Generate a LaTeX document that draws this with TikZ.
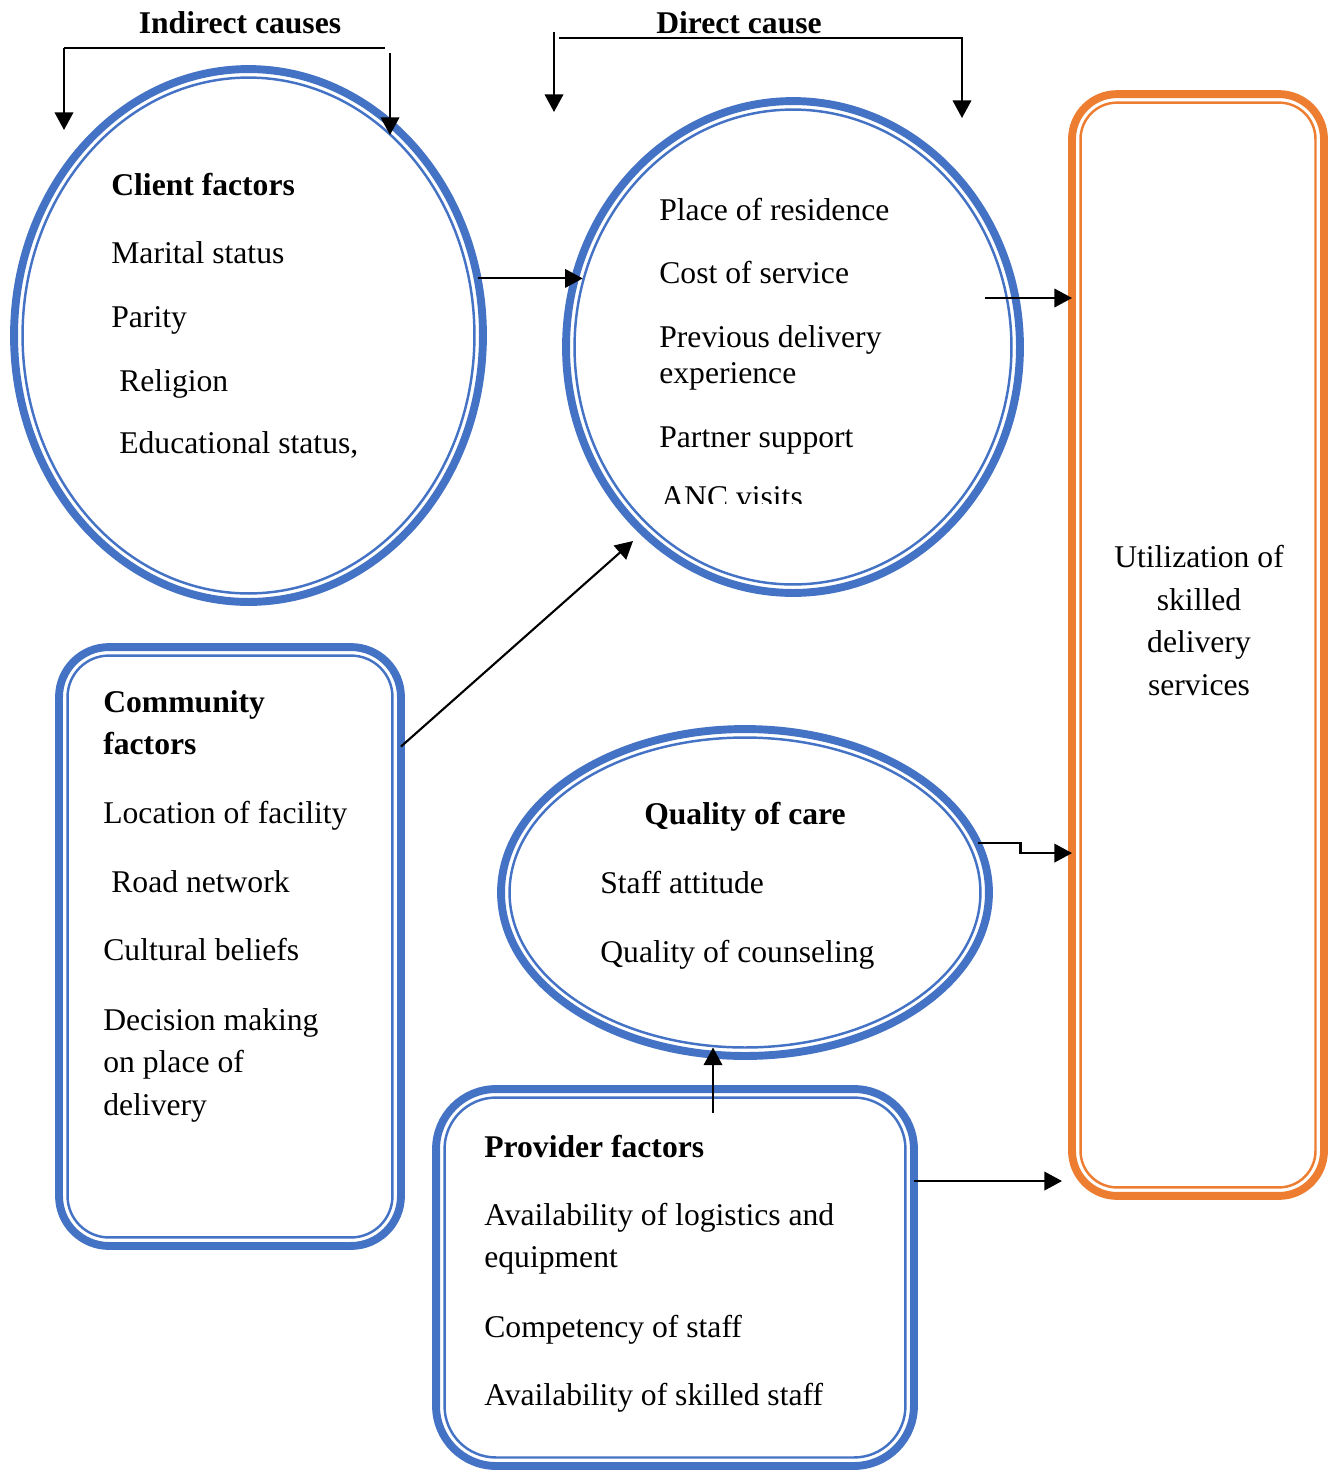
\documentclass[tikz,border=0pt]{standalone}
\usepackage{fontspec}
\setmainfont{Liberation Serif}
\usepackage{xcolor}
\usetikzlibrary{
	arrows.meta,
	shapes,
}
\definecolor{ringblue}{RGB}{68,114,196}
\definecolor{ringorange}{RGB}{237,125,49}

\begin{document}
\begin{tikzpicture}[x=0.02cm, y=-0.02cm,
	thickring/.style={draw=ringblue, line width=4.5pt, inner sep=0pt, outer sep=0pt},
	thinring/.style={draw=ringblue, line width=1.4pt, inner sep=0pt, outer sep=0pt},
	item/.style={anchor=base west, inner sep=0pt, font=\fontsize{18pt}{22pt}\selectfont},
	head/.style={item, font=\fontsize{18pt}{22pt}\selectfont\bfseries},
	arr/.style={-{Triangle[length=10pt, width=10.5pt]}, line width=1.2pt}]
\useasboundingbox (0,0) rectangle (1330,1472);

% client factors
\node[thickring, ellipse, minimum width=9.38cm, minimum height=10.66cm] (client) at (248.5,335.5) {};
\node[thinring, ellipse, minimum width=9.04cm, minimum height=10.32cm] (client-in) at (client) {};
\node[head] (client-title) at (111,195) {Client factors};
\node[item] (marital) at (111,263) {Marital status};
\node[item] (parity) at (111,327) {Parity};
\node[item] (religion) at (119,391) {Religion};
\node[item] (education) at (119,453) {Educational status,};

% direct causes
\node[thickring, ellipse, minimum width=9.08cm, minimum height=9.84cm] (direct) at (793,347) {};
\node[thinring, ellipse, minimum width=8.74cm, minimum height=9.5cm] (direct-in) at (direct) {};
\node[item] (residence) at (659,220) {Place of residence};
\node[item] (cost) at (659,283) {Cost of service};
\node[item] (previous) at (659,347) {Previous delivery};
\node[item] (previous-2) at (659,383) {experience};
\node[item] (partner) at (659,447) {Partner support};
\begin{scope}
\clip (600,470) rectangle (900,503);
\node[item] (anc) at (661,507) {ANC visits};
\end{scope}

% community factors
\node[thickring, rectangle, rounded corners=1cm, minimum width=6.84cm, minimum height=11.98cm] (community) at (230,946.5) {};
\node[thinring, rectangle, rounded corners=0.83cm, minimum width=6.5cm, minimum height=11.64cm] (community-in) at (community) {};
\node[head] (community-title) at (103,712) {Community};
\node[head] (community-title-2) at (103,754) {factors};
\node[item] (location) at (103,823) {Location of facility};
\node[item] (road) at (111,892) {Road network};
\node[item] (beliefs) at (103,960) {Cultural beliefs};
\node[item] (decision) at (103,1030) {Decision making};
\node[item] (decision-2) at (103,1072) {on place of};
\node[item] (decision-3) at (103,1115) {delivery};

% quality of care
\node[thickring, ellipse, minimum width=9.76cm, minimum height=6.54cm] (quality) at (745,892.5) {};
\node[thinring, ellipse, minimum width=9.42cm, minimum height=6.2cm] (quality-in) at (quality) {};
\node[head, anchor=base] (quality-title) at (745,824) {Quality of care};
\node[item] (attitude) at (600,893) {Staff attitude};
\node[item] (counseling) at (600,962) {Quality of counseling};

% provider factors
\node[thickring, rectangle, rounded corners=1.2cm, minimum width=9.56cm, minimum height=7.54cm] (provider) at (675,1277.5) {};
\node[thinring, rectangle, rounded corners=1.03cm, minimum width=9.22cm, minimum height=7.2cm] (provider-in) at (provider) {};
\node[head] (provider-title) at (484,1157) {Provider factors};
\node[item] (logistics) at (484,1225) {Availability of logistics and};
\node[item] (logistics-2) at (484,1267) {equipment};
\node[item] (competency) at (484,1337) {Competency of staff};
\node[item] (skilled) at (484,1405) {Availability of skilled staff};

% outcome
\node[thickring, draw=ringorange, rectangle, rounded corners=0.9cm, minimum width=5.04cm, minimum height=22.04cm] (util) at (1198,645) {};
\node[thinring, draw=ringorange, rectangle, rounded corners=0.73cm, minimum width=4.7cm, minimum height=21.7cm] (util-in) at (util) {};
\node[item, anchor=base] (util-1) at (1199,567) {Utilization of};
\node[item, anchor=base] (util-2) at (1199,610) {skilled};
\node[item, anchor=base] (util-3) at (1199,652) {delivery};
\node[item, anchor=base] (util-4) at (1199,695) {services};

% headings with brackets
\node[head, anchor=base] (indirect) at (240,33) {Indirect causes};
\coordinate (ind-l) at (64,48);
\coordinate (ind-r) at (385,48);
\draw[line width=1.2pt] (ind-l) -- (ind-r);
\draw[arr] (ind-l) -- ++(0,82);
\draw[arr] (390,53) -- ++(0,82);

\node[head, anchor=base] (directcause) at (739,33) {Direct cause};
\coordinate (dir-l) at (559,38);
\coordinate (dir-r) at (962,38);
\draw[arr] (dir-l) -- (dir-r) -- ++(0,80);
\draw[arr] (554,32) -- ++(0,80);

% arrows between the factors
\draw[arr] (client.14) -- (client.14 -| direct-in.163);
\coordinate (d2u) at (985,298);
\draw[arr] (d2u) -- (d2u -| util.west);
\coordinate (d-sw) at (633,541);
\draw[arr] ([yshift=4cm]community.east) -- (d-sw);
\draw[arr] (quality.12) -- ++(43,0) -- ++(0,10) coordinate (q-step) -- (q-step -| util.west);
\coordinate (p2q) at (713,1113);
\draw[arr] (p2q) -- (p2q |- quality-in.south);
\draw[arr] ([yshift=1.93cm]provider.east) coordinate (p2u) -- ([xshift=-0.2cm]p2u -| util.west);

\end{tikzpicture}
\end{document}
